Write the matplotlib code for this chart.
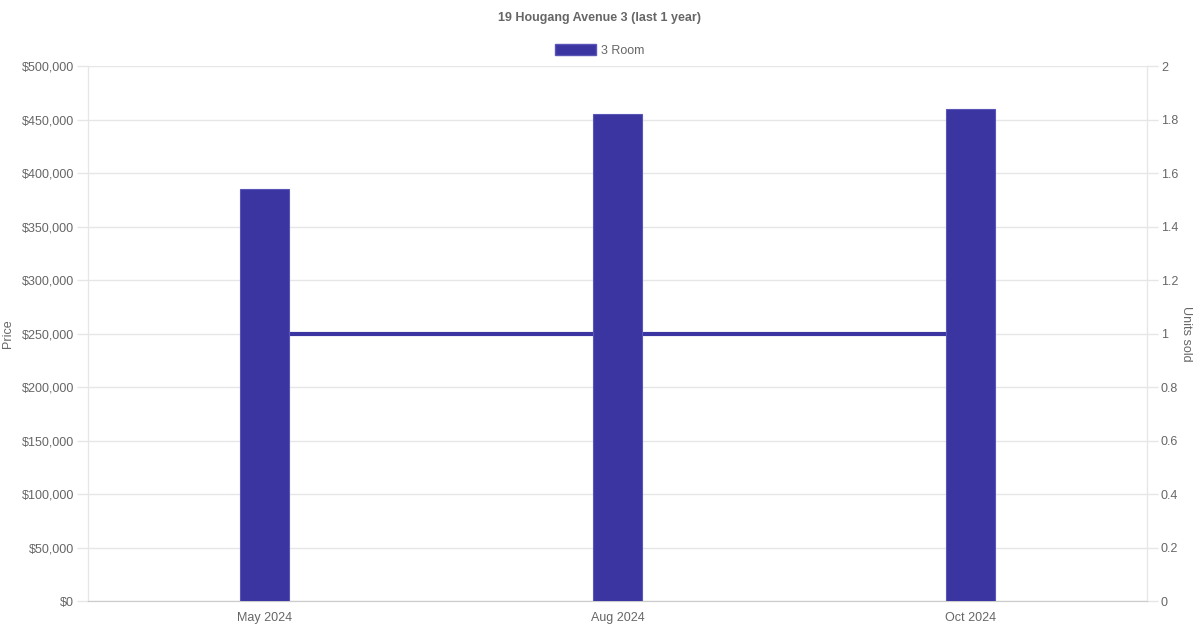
import matplotlib.pyplot as plt
from matplotlib.patches import Patch
from matplotlib.ticker import FuncFormatter, MultipleLocator

plt.rcParams['font.family'] = ['Liberation Sans', 'DejaVu Sans']

months = ["May 2024", "Aug 2024", "Oct 2024"]
prices = [385000, 455000, 460000]
units = [1, 1, 1]

col = "#3a35a0"
txt = "#666666"
grid = "#e6e6e6"

fig = plt.figure(figsize=(12, 6.3), dpi=100)
ax = fig.add_axes([0.0733, 0.046, 0.8825, 0.8492])
ax2 = ax.twinx()
ax.set_zorder(2)
ax2.set_zorder(1)
ax.patch.set_visible(False)

x = list(range(len(months)))
ax.bar(x, prices, width=0.14, color=col, edgecolor="#5a56b8", linewidth=0.8, zorder=3)
ax2.plot(x, units, color=col, linewidth=3, zorder=3)

ax.set_xlim(-0.5, len(months) - 0.5)
ax.set_ylim(0, 500000)
ax2.set_ylim(0, 2)
ax.yaxis.set_major_locator(MultipleLocator(50000))
ax.yaxis.set_major_formatter(FuncFormatter(lambda v, p: "${:,.0f}".format(v)))
ax2.yaxis.set_major_locator(MultipleLocator(0.2))
ax2.yaxis.set_major_formatter(FuncFormatter(lambda v, p: "{:g}".format(round(v, 1))))

ax.set_xticks(x)
ax.set_xticklabels(months)
# grid on the twin so the line sits above it
ax2.grid(axis="y", color=grid, linewidth=1, zorder=0)
ax2.set_axisbelow(True)

for a in (ax, ax2):
    for s in a.spines.values():
        s.set_color(grid)
    a.spines["top"].set_visible(False)
    a.spines["bottom"].set_color("#cccccc")
    a.tick_params(axis="y", colors=txt, labelsize=9, length=8, width=1, color=grid, pad=2)
ax.tick_params(axis="x", colors=txt, labelsize=9, length=0, pad=8)

ax.set_ylabel("Price", color=txt, fontsize=9, va="center")
ax.yaxis.set_label_coords(-0.0755, 0.5)
ax2.set_ylabel("Units sold", color=txt, fontsize=9, rotation=270, va="center")
ax2.yaxis.set_label_coords(1.037, 0.5)

fig.text(0.5, 0.972, "19 Hougang Avenue 3 (last 1 year)", ha="center", va="center",
         fontsize=9, fontweight="bold", color=txt)
fig.legend(handles=[Patch(facecolor=col, edgecolor="#5a56b8", label="3 Room")],
           loc="center", bbox_to_anchor=(0.5, 0.92), frameon=False, fontsize=9,
           labelcolor=txt, handlelength=3.3, handleheight=0.9, handletextpad=0.4)

fig.savefig("out.png", dpi=100)
